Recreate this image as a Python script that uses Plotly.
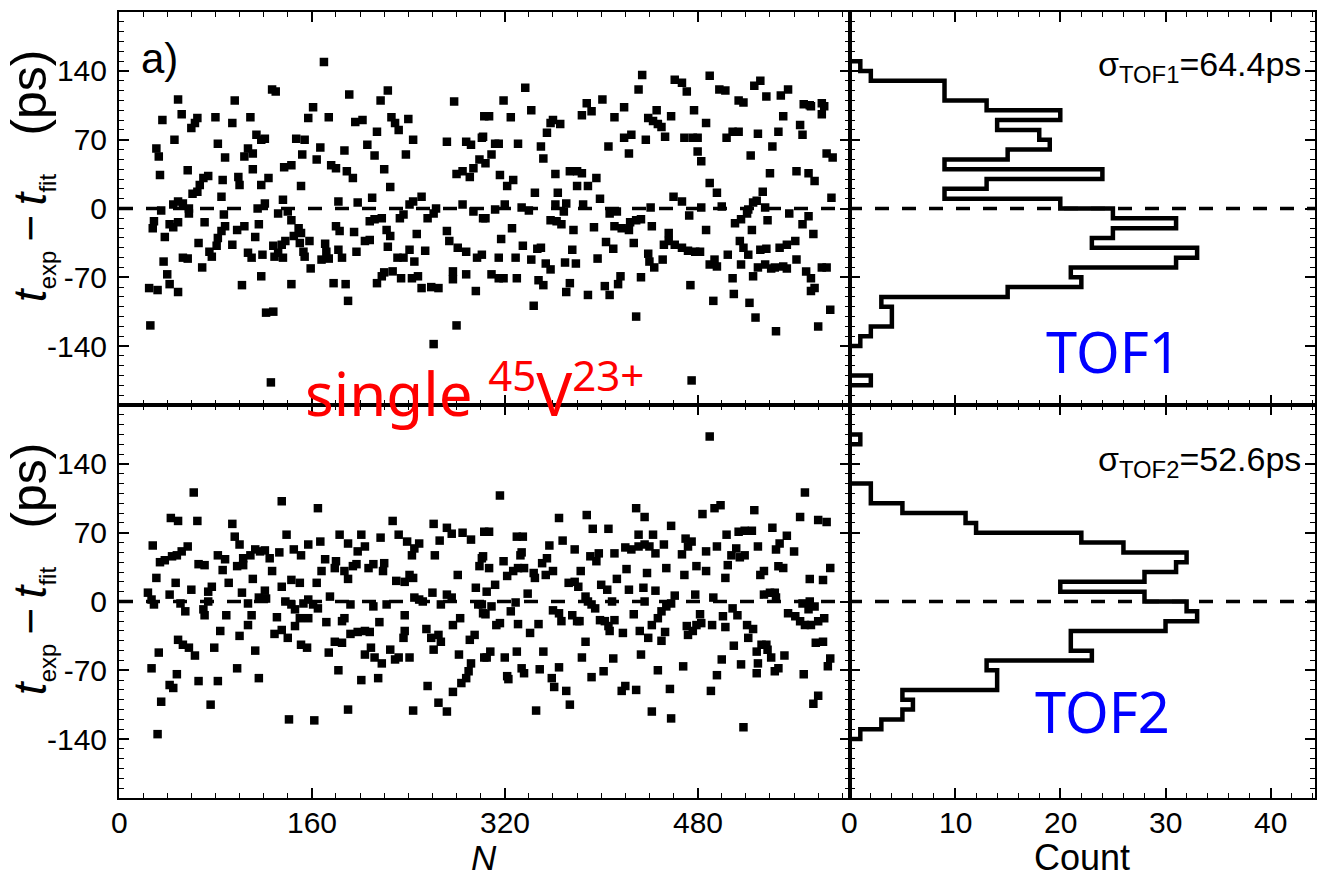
import plotly.graph_objects as go

# ---------------- data ----------------
# top panel (TOF1): (N, t_exp - t_fit in ps)
top_points = [
(26,-119),(25,-81),(32,-83),(31,61),(33,53),(29,-13),(28,-20),(34,34),(36,90),(35,-2),(38,-29),(37,-54),(40,-67),(42,-77),(49,-85),(42,-16),(49,-14),(45,-19),(46,70),(49,111),(52,96),(45,4),(49,7),(53,5),(58,0),(58,-5),(53,-50),(57,-51),(57,39),(60,82),(65,92),(63,87),(61,15),(65,17),(67,24),(70,31),(74,33),(66,-35),(69,-60),(71,-14),(75,-44),(77,-49),(81,-38),(82,-30),(85,-23),(88,-18),(80,93),(82,66),(88,52),(86,29),(85,12),(87,-6),(94,87),(96,110),(94,-37),(98,-22),(104,-18),(99,32),(100,24),(102,-78),(104,53),(107,61),(111,56),(114,75),(118,70),(121,71),(109,93),(107,-45),(110,-50),(111,40),(113,-29),(115,0),(116,-16),(118,24),(121,5),(124,31),(119,-47),(118,-69),(122,-106),(128,-105),(126,-177),(127,121),(130,119),(128,-38),(129,-49),(132,-45),(135,-37),(138,-33),(136,-50),(132,-5),(136,9),(137,42),(143,44),(140,-3),(143,-12),(143,-77),(145,-28),(149,-20),(151,-25),(150,-35),(153,-44),(154,-49),(147,71),(154,70),(151,23),(152,55),(157,92),(161,103),(158,-33),(159,-61),(164,50),(167,62),(170,149),(171,-36),(168,-52),(174,-51),(172,-44),(174,93),(176,44),(180,41),(178,-76),(180,-18),(183,-23),(182,-42),(185,-50),(182,7),(187,59),(188,-77),(190,-94),(191,116),(189,38),(194,31),(195,-24),(197,-44),(196,88),(202,90),(198,6),(204,-33),(208,-32),(206,65),(210,11),(208,-13),(212,-11),(218,-10),(212,54),(214,78),(214,-76),(218,-69),(220,-65),(217,110),(223,120),(220,40),(222,-22),(225,-28),(223,-39),(225,22),(226,93),(229,87),(232,80),(227,-64),(234,-71),(231,-50),(236,-50),(233,-10),(236,-6),(238,55),(240,91),(241,-42),(245,-54),(241,4),(244,7),(244,70),(247,-26),(243,-71),(248,-69),(251,-81),(251,12),(254,-43),(256,-10),(261,-5),(263,0),(259,-80),(265,-81),(261,-138),(272,68),(272,-23),(274,-33),(277,-64),(277,-72),(278,109),(280,-119),(280,35),(285,38),(291,32),(294,41),(299,50),(281,-40),(288,-44),(285,4),(294,-3),(288,-67),(288,68),(292,65),(296,-84),(297,-50),(301,72),(302,-10),(303,94),
(302,73),(307,94),(304,46),(309,55),(312,66),(315,66),(304,-10),(312,-1),(320,4),(301,-47),(309,-67),(315,-71),(319,-71),(316,34),(322,23),(327,29),(319,110),(325,93),(317,-31),(315,-50),(326,-20),(329,-50),(330,-71),(331,66),(334,1),(340,-2),(335,-38),(337,123),(342,-52),(347,-41),(350,-40),(342,100),(344,-99),(345,16),(348,-73),(352,-78),(350,63),(352,51),(354,-56),(358,-62),(355,77),(358,87),(360,90),(366,86),(358,-12),(363,-13),(367,-16),(362,35),(362,4),(369,-3),(371,5),(364,16),(370,-55),(371,-85),(374,-76),(374,38),(380,38),(384,36),(376,-42),(377,-22),(379,-56),(380,23),(384,95),(385,4),(388,107),(392,99),(389,23),(396,31),(389,-88),(394,-19),(397,-51),(399,10),(401,111),(403,-79),(407,-88),(404,-34),(410,-41),(406,63),(407,-5),(413,-3),(411,93),(411,-18),(417,-20),(423,-22),(424,-14),(429,-12),(433,-11),(414,-77),(416,-69),(419,103),(419,72),(425,75),(423,56),(427,-35),(429,-110),(431,121),(434,136),(433,-70),(437,70),(439,92),(443,89),(447,86),(439,-46),(440,-54),(444,-60),(441,1),(442,-18),(446,100),(450,83),(453,73),(451,-52),(452,-37),(456,-25),(456,-33),(461,-37),(467,-40),(472,-43),(478,-44),(482,-44),(458,94),(460,12),(467,7),(461,131),(467,128),(471,119),(469,72),(476,72),(480,72),(473,-7),(474,-78),(475,-175),(477,100),(480,58),(483,48),(483,1),(487,87),(487,-22),(490,135),(490,26),(496,16),(490,-57),(496,-59),(494,-52),(493,-94),(498,121),(503,120),(500,2),(504,72),(509,78),(514,78),(505,-47),(509,-71),(510,-87),(511,-15),(516,-11),(521,-5),(514,110),(518,108),(515,-33),(518,-40),(522,-47),(516,-57),(522,-1),(526,6),(529,8),(523,-96),(524,54),(525,-22),(526,-69),(530,-60),(536,-57),(541,-61),(544,-60),(527,125),(532,130),(528,-111),(530,76),(532,-42),(537,-41),(534,17),(536,1),(537,114),(538,-12),(540,36),(542,63),(545,-125),(547,78),(548,-40),(554,-37),(549,115),(555,121),(551,-59),(554,-61),(551,94),(556,-5),(561,-33),(562,38),(562,-52),(565,85),(567,75),(567,-16),(568,106),(573,105),(574,104),(570,-64),(574,-71),(577,-81),(574,-84),(572,-8),(572,36),(577,28),(576,-26),(580,-120),(583,107),(585,104),(583,96),(583,-60),(587,-60),(587,56),(592,52),(590,-103),(591,11),
]

# bottom panel (TOF2)
bottom_points = [
(27,-68),(24,9),(27,2),(29,-3),(28,57),(31,24),(32,-135),(33,-52),(34,40),(38,42),(44,46),(48,47),(52,51),(57,56),(35,-102),(42,-85),(45,-88),(42,7),(43,85),(49,82),(47,19),(48,-74),(49,-39),(53,-44),(58,-47),(63,-55),(51,-2),(55,-10),(60,12),(62,111),(65,82),(66,-81),(66,38),(71,37),(70,-8),(71,-14),(74,0),(74,10),(77,15),(76,-105),(79,-47),(82,-81),(82,47),(88,43),(84,-30),(86,32),(89,-14),(91,19),(94,79),(96,66),(100,58),(98,-68),(98,36),(103,37),(100,-35),(102,9),(107,-2),(103,44),(109,47),(113,53),(117,51),(121,52),(125,44),(107,-24),(110,-14),(111,23),(113,-50),(116,-78),(116,4),(121,11),(122,3),(127,31),(129,-33),(135,-29),(140,-37),(131,-16),(133,50),(135,102),(135,15),(139,68),(138,0),(143,-3),(146,-8),(141,-120),(143,22),(150,19),(145,53),(151,47),(146,-25),(150,-17),(157,-17),(151,-44),(156,-47),(153,-2),(157,2),(161,-3),(165,-7),(157,58),(162,-121),(164,19),(165,95),(167,61),(168,31),(171,43),(172,-21),(174,-52),(175,5),(179,34),(180,41),(179,-41),(185,-42),(182,-70),(183,68),(190,59),(185,-20),(187,-17),(187,31),(190,23),(194,36),(197,38),(190,-110),(192,-3),(192,-33),(198,-31),(204,-30),(208,-31),(198,51),(204,56),(201,68),(201,-80),(204,-54),(209,-47),(212,-57),(218,-63),(207,34),(211,38),(211,-5),(215,-78),(216,-21),(217,65),(220,39),(219,31),(222,-3),(225,-49),(227,82),(229,-59),(232,-57),(230,21),(237,20),(241,27),(244,24),(232,68),(236,-37),(237,-30),(237,-14),(239,61),(245,54),(249,59),(241,-57),(243,47),(244,-111),(245,4),(249,2),(252,0),(255,-28),(259,-37),(265,-34),(267,-41),(256,-86),(260,9),(261,79),(261,-49),(262,47),(265,-103),(266,62),(272,75),(276,69),(267,-3),(272,7),(276,4),(272,-112),(277,-92),(284,-83),(288,-78),(290,-71),(292,-63),(277,-24),(283,-17),(281,27),(282,-54),(285,70),(291,-39),(295,-34),(292,63),(296,14),(301,44),(299,36),(298,-3),(302,-12),(303,71),(303,-57),
(316,108),(307,71),(302,46),(307,34),(305,10),(312,17),(301,-3),(309,-5),(304,-13),(313,-24),(316,-22),(308,-51),(305,-57),(320,-57),(319,41),(322,26),(327,31),(331,34),(336,34),(344,29),(345,24),(323,-79),(322,-76),(325,-10),(329,-1),(330,66),(335,66),(330,-51),(331,-23),(333,47),(334,50),(334,-68),(336,-73),(339,8),(341,-32),(346,-111),(348,-23),(349,-69),(351,39),(355,44),(354,27),(360,31),(352,-51),(357,57),(359,-78),(361,-87),(360,-9),(365,-12),(367,-20),(365,-67),(365,85),(368,62),(371,-91),(373,19),(378,20),(381,15),(383,31),(374,-105),(376,-14),(380,-20),(382,-20),(378,53),(384,-57),(387,5),(389,0),(392,-3),(395,-7),(387,-41),(388,88),(392,-77),(393,74),(391,46),(398,49),(396,41),(399,-19),(403,-20),(406,-25),(407,-30),(411,-19),(400,17),(405,12),(402,-71),(406,74),(409,0),(410,-58),(411,49),(413,23),(417,-91),(420,-86),(418,-32),(420,55),(425,53),(431,56),(436,58),(440,56),(443,68),(445,49),(421,33),(423,12),(427,-13),(429,-90),(429,95),(436,86),(431,68),(432,-30),(439,-37),(433,-54),(435,14),(436,0),(438,29),(442,-24),(447,-17),(450,-10),(454,-5),(458,-2),(461,6),(442,-112),(445,11),(447,-70),(450,-40),(453,-31),(452,58),(454,34),(457,-89),(458,-119),(458,77),(467,48),(468,-66),(469,27),(470,64),(475,61),(472,56),(471,-25),(472,-34),(476,-30),(479,-24),(483,-22),(482,-13),(492,-24),(478,7),(479,36),(487,31),(484,89),(487,51),(491,-91),(493,4),(494,95),(499,98),(496,56),(496,-75),(500,-59),(501,-15),(503,24),(503,-26),(504,68),(505,37),(508,47),(512,54),(515,45),(519,47),(509,-7),(513,-14),(510,-45),(514,71),(519,72),(525,72),(516,-64),(518,-128),(521,-24),(526,-28),(522,-37),(527,93),(529,-51),(533,-44),(537,-44),(529,-73),(530,-63),(538,-49),(541,-57),(544,-71),(547,-68),(530,56),(532,27),(535,31),(535,7),(540,9),(544,9),(545,4),(542,75),(545,53),(548,59),(554,67),(547,36),(551,34),(552,-55),(555,-12),(561,-15),(565,-20),(569,-24),(574,-24),(580,-20),(585,-17),(560,51),(565,86),(567,-2),(573,0),(577,-5),(572,-8),(568,-74),(569,111),(573,23),(576,-104),(580,-96),(578,-42),(584,-41),(580,83),(587,81),(584,22),(588,-66),(590,-58),(590,34),(490,168),
]

# histograms: upper bin edge (ps) of each 10-ps bin, from top to bottom, and counts
tof1_upper_edges = [160,150,140,130,120,110,100,90,80,70,60,50,40,30,20,10,0,-10,-20,-30,-40,-50,-60,-70,-80,-90,-100,-110,-120,-130,-140,-150,-160,-170]
tof1_counts      = [0,  1,  2,  9,  9,  13, 20, 14,18,19,15, 9,24,13, 9,20,25, 31, 25, 23, 33, 31, 21, 22, 15,  3,   4,   4,   2,   1,   0,   0,   0,   2]
tof2_upper_edges = [180,170,160,150,140,130,120,110,100,90,80,70,60,50,40,30,20,10,0,-10,-20,-30,-40,-50,-60,-70,-80,-90,-100,-110,-120,-130]
tof2_counts      = [0,  1,  0,  0,  0,  0,  2,  2,  5, 11,12,22,26,32,31,28,20,28,32, 33, 30, 21, 21, 23, 13, 14, 14,  5,   6,   5,   3,   1]
bin_width = 10

y_tick_vals = [-140, -70, 0, 70, 140]
y_tick_text = ["-140", "-70", "0", "70", "140"]
n_tick_vals = [0, 160, 320, 480]
count_tick_vals = [0, 10, 20, 30, 40]

sigma_tof1 = "64.4"
sigma_tof2 = "52.6"

# ---------------- layout helpers ----------------
W, H = 1319, 877
L, R, T, B = 119, 2, 12, 79
PW, PH = W - L - R, H - T - B


def px(x):
    return (x - L) / PW


def py(y):
    return (H - B - y) / PH


split = px(851)


def step_xy(upper, counts, width):
    xs, ys = [], []
    for u, c in zip(upper, counts):
        xs.append(c)
        ys.append(u)
    xs.append(0)
    ys.append(upper[-1] - width)
    return xs, ys


fig = go.Figure()
mk = dict(symbol="square", size=8.5, color="black", line=dict(width=0))
fig.add_trace(go.Scatter(x=[p[0] for p in top_points], y=[p[1] for p in top_points],
                         mode="markers", marker=mk, xaxis="x", yaxis="y", showlegend=False))
fig.add_trace(go.Scatter(x=[p[0] for p in bottom_points], y=[p[1] for p in bottom_points],
                         mode="markers", marker=mk, xaxis="x3", yaxis="y3", showlegend=False))
hx1, hy1 = step_xy(tof1_upper_edges, tof1_counts, bin_width)
hx2, hy2 = step_xy(tof2_upper_edges, tof2_counts, bin_width)
fig.add_trace(go.Scatter(x=hx1, y=hy1, mode="lines", line=dict(shape="vh", color="black", width=4.5),
                         xaxis="x2", yaxis="y2", showlegend=False))
fig.add_trace(go.Scatter(x=hx2, y=hy2, mode="lines", line=dict(shape="vh", color="black", width=4.5),
                         xaxis="x4", yaxis="y4", showlegend=False))

AF = "Liberation Sans, Arial, sans-serif"
SF = "Noto Sans, Open Sans, sans-serif"
TF = dict(family=AF, size=30, color="black")
common = dict(showline=True, linewidth=2, linecolor="black", mirror="allticks",
              ticks="inside", ticklen=10, tickwidth=1.6, tickcolor="black",
              showgrid=False, zeroline=False, tickfont=TF)


def minor(dt):
    return dict(ticks="inside", ticklen=5, tickwidth=1.4, tickcolor="black",
                tickmode="linear", tick0=0, dtick=dt, showgrid=False)


# x tick labels are drawn as annotations (below) so they can sit closer to the axis
xl = dict(common, range=[0, 606.2], tickmode="array", tickvals=n_tick_vals,
          minor=minor(20), showticklabels=False)
xr = dict(common, range=[0, 44.2], tickmode="array", tickvals=count_tick_vals,
          minor=minor(2), showticklabels=False)
yl = dict(common, range=[-200, 200], tickmode="array", tickvals=y_tick_vals,
          ticktext=y_tick_text, minor=minor(10), ticklabelstandoff=4)
yr = dict(common, range=[-200, 200], tickmode="array", tickvals=y_tick_vals,
          ticktext=y_tick_text, minor=minor(10), showticklabels=False)

fig.update_layout(
    width=W, height=H, margin=dict(l=L, r=R, t=T, b=B, pad=0),
    paper_bgcolor="white", plot_bgcolor="white",
    xaxis=dict(xl, domain=[0, split], anchor="y"),
    yaxis=dict(yl, domain=[0.5, 1], anchor="x"),
    xaxis2=dict(xr, domain=[split, 1], anchor="y2"),
    yaxis2=dict(yr, domain=[0.5, 1], anchor="x2"),
    xaxis3=dict(xl, domain=[0, split], anchor="y3"),
    yaxis3=dict(yl, domain=[0, 0.5], anchor="x3"),
    xaxis4=dict(xr, domain=[split, 1], anchor="y4"),
    yaxis4=dict(yr, domain=[0, 0.5], anchor="x4"),
    showlegend=False,
)

dash = dict(color="black", width=3.5, dash="14px,13px")
fig.add_shape(type="line", xref="paper", x0=0, x1=1, yref="y", y0=0, y1=0, line=dash)
fig.add_shape(type="line", xref="paper", x0=0, x1=1, yref="y3", y0=0, y1=0, line=dash)

ytitle = ("<i>t</i><sub><span style='font-size:24px'>exp</span></sub>\u2009\u2212\u2009"
          "<i>t</i><sub><span style='font-size:24px'>fit</span></sub>\u00a0\u00a0\u00a0"
          "<span style='font-size:50px'>(ps)</span>")
ann = [
    dict(text=ytitle, x=px(31), y=py(176), textangle=-90, font=dict(family=AF, size=46, color="black")),
    dict(text=ytitle, x=px(31), y=py(569), textangle=-90, font=dict(family=AF, size=46, color="black")),
    dict(text="a)", x=px(160), y=py(58), font=dict(family=AF, size=42, color="black")),
    dict(text="\u03c3<sub>TOF1</sub>=" + sigma_tof1 + "ps", x=px(1305), y=py(66), xanchor="right",
         font=dict(family=AF, size=34, color="black")),
    dict(text="\u03c3<sub>TOF2</sub>=" + sigma_tof2 + "ps", x=px(1305), y=py(461), xanchor="right",
         font=dict(family=AF, size=34, color="black")),
    dict(text="TOF1", x=px(1115), y=py(351), font=dict(family=SF, size=56, color="#0000ff")),
    dict(text="TOF2", x=px(1104), y=py(711), font=dict(family=SF, size=56, color="#0000ff")),
    dict(text="single <sup>45</sup>V<sup>23+</sup>", x=px(303), y=py(436), xanchor="left", yanchor="bottom",
         font=dict(family=SF, size=60, color="#ff0000")),
    dict(text="<i>N</i>", x=px(485), y=py(858), font=dict(family=AF, size=35, color="black")),
    dict(text="Count", x=px(1084), y=py(858), font=dict(family=AF, size=36, color="black")),
]
for a in ann:
    a.setdefault("xanchor", "center")
    a.setdefault("yanchor", "middle")
    a.update(xref="paper", yref="paper", showarrow=False)
    fig.add_annotation(**a)

# bottom-axis tick labels placed at the data positions of the ticks
for v in n_tick_vals:
    fig.add_annotation(text=str(v), xref="x3", x=v, yref="paper", y=py(822), showarrow=False,
                       xanchor="center", yanchor="middle", font=TF)
for v in count_tick_vals:
    fig.add_annotation(text=str(v), xref="x4", x=v, yref="paper", y=py(822), showarrow=False,
                       xanchor="center", yanchor="middle", font=TF)

fig.write_html("out.html", config={"displayModeBar": False},
               post_script="document.body.style.margin='0px';")
